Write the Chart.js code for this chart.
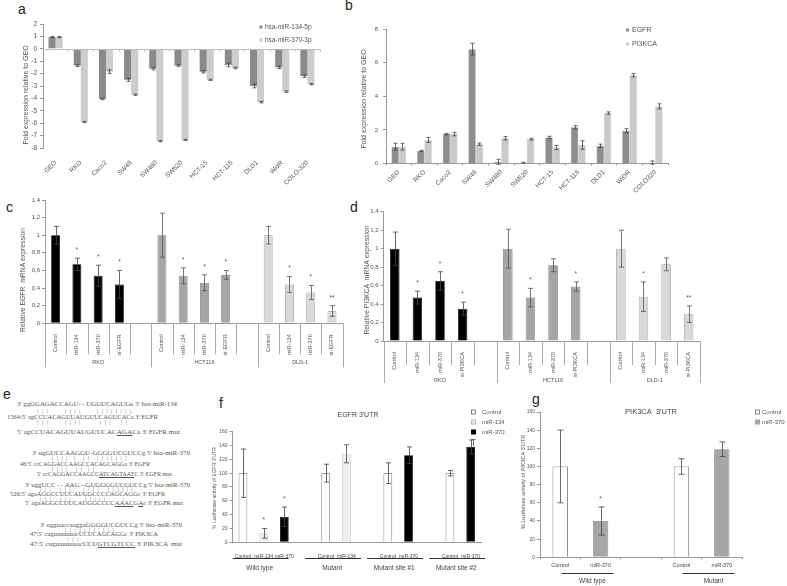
<!DOCTYPE html>
<html>
<head>
<meta charset="utf-8">
<title>miR-134 / miR-370, EGFR and PI3KCA</title>
<script src="https://cdn.jsdelivr.net/npm/chart.js@4.4.1/dist/chart.umd.min.js"></script>
<style>
  body { margin: 0; background: #fff; }
  #page { position: relative; width: 787px; height: 586px; overflow: hidden; font-family: "Liberation Sans", Arial, sans-serif; }
  #page canvas { position: absolute; }
  .panel { position: absolute; font-size: 14px; line-height: 1; color: #222; }
  .seq { position: absolute; font-family: "Liberation Serif", serif; font-size: 6.6px; line-height: 1; color: #555; white-space: pre; transform-origin: 0 0; }
  .pipe { position: absolute; font-family: "Liberation Serif", serif; font-size: 6px; line-height: 1; color: #666; white-space: pre; letter-spacing: 1px; }
</style>
</head>
<body>
<div id="page">
  <div class="panel" style="left:18px;top:2px">a</div>
  <div class="panel" style="left:345px;top:-2px">b</div>
  <div class="panel" style="left:6px;top:200px">c</div>
  <div class="panel" style="left:350px;top:200px">d</div>
  <div class="panel" style="left:3px;top:387px">e</div>
  <div class="panel" style="left:219px;top:396px">f</div>
  <div class="panel" style="left:532px;top:392px">g</div>
  <div id="seqs"></div>
</div>
<script>
// ---- a: miRNA fold expression relative to GEO ----
const linesA = ["GEO", "RKO", "Caco2", "SW48", "SW480", "SW620", "HCT-15", "HCT-116", "DLD1", "WidR", "COLO-320"];
const mir134Fold = [0.95, -1.35, -4.05, -2.5, -1.6, -1.35, -1.85, -1.3, -3.0, -1.5, -2.2];
const mir134FoldErr = [0.05, 0.08, 0.06, 0.12, 0.1, 0.06, 0.1, 0.15, 0.15, 0.1, 0.1];
const mir370Fold = [0.95, -5.9, -1.85, -3.7, -7.45, -7.35, -2.5, -1.55, -4.3, -3.45, -2.85];
const mir370FoldErr = [0.05, 0.05, 0.15, 0.05, 0.05, 0.05, 0.05, 0.06, 0.06, 0.06, 0.05];

// ---- b: EGFR / PI3KCA fold expression relative to GEO ----
const linesB = ["GEO", "RKO", "Caco2", "SW48", "SW480", "SW620", "HCT-15", "HCT-116", "DLD1", "WiDR", "COLO320"];
const egfrFold = [1.0, 0.75, 1.75, 6.8, 0.1, 0.05, 1.55, 2.15, 1.05, 1.95, 0.05];
const egfrFoldErr = [0.2, 0.03, 0.04, 0.35, 0.15, 0.02, 0.07, 0.1, 0.1, 0.12, 0.1];
const pi3kFold = [1.0, 1.4, 1.75, 1.15, 1.5, 1.45, 0.95, 1.1, 3.0, 5.25, 3.4];
const pi3kFoldErr = [0.2, 0.15, 0.1, 0.07, 0.1, 0.05, 0.12, 0.25, 0.07, 0.1, 0.15];

// ---- c / d: relative mRNA expression ----
const cellGroups = ["RKO", "HCT116", "DLD-1"];
const treatEgfr = ["Control", "miR-134", "miR-370", "si-EGFR"];
const treatPik = ["Control", "miR-134", "miR-370", "si-PI3KCA"];

const rkoEgfr = [1.0, 0.67, 0.54, 0.44];
const rkoEgfrErr = [0.1, 0.07, 0.12, 0.16];
const rkoEgfrSig = ["", "*", "*", "*"];
const hctEgfr = [1.0, 0.54, 0.46, 0.55];
const hctEgfrErr = [0.25, 0.09, 0.09, 0.05];
const hctEgfrSig = ["", "*", "*", "*"];
const dldEgfr = [1.0, 0.44, 0.35, 0.14];
const dldEgfrErr = [0.1, 0.09, 0.08, 0.06];
const dldEgfrSig = ["", "*", "*", "**"];

const rkoPik = [1.0, 0.47, 0.65, 0.35];
const rkoPikErr = [0.18, 0.07, 0.1, 0.07];
const rkoPikSig = ["", "*", "*", "*"];
const hctPik = [1.0, 0.47, 0.82, 0.59];
const hctPikErr = [0.21, 0.1, 0.07, 0.05];
const hctPikSig = ["", "*", "", "*"];
const dldPik = [1.0, 0.48, 0.83, 0.29];
const dldPikErr = [0.2, 0.16, 0.07, 0.09];
const dldPikSig = ["", "*", "", "**"];

// ---- f: EGFR 3'UTR luciferase ----
const egfrLucLabels = ["Control", "miR-134", "miR-370", "", "Control", "miR-134", "", "Control", "miR-370", "", "Control", "miR-370"];
const egfrLucGroups = ["Wild type", "Mutant", "Mutant site #1", "Mutant site #2"];
const egfrLucCtrl = [100, null, null, null, 100, null, null, 100, null, null, 100, null];
const egfrLucCtrlErr = [35, 0, 0, 0, 13, 0, 0, 15, 0, 0, 4, 0];
const egfrLuc134 = [null, 13, null, null, null, 128, null, null, null, null, null, null];
const egfrLuc134Err = [0, 7, 0, 0, 0, 13, 0, 0, 0, 0, 0, 0];
const egfrLuc134Sig = ["", "*", "", "", "", "", "", "", "", "", "", ""];
const egfrLuc370 = [null, null, 37, null, null, null, null, null, 126, null, null, 138];
const egfrLuc370Err = [0, 0, 14, 0, 0, 0, 0, 0, 12, 0, 0, 10];
const egfrLuc370Sig = ["", "", "*", "", "", "", "", "", "", "", "", ""];

// ---- g: PIK3CA 3'UTR luciferase ----
const pikLucLabels = ["Control", "miR-370", "", "Control", "miR-370"];
const pikLucGroups = ["Wild type", "Mutant"];
const pikLucCtrl = [100, null, null, 100, null];
const pikLucCtrlErr = [40, 0, 0, 8.5, 0];
const pikLuc370 = [null, 40, null, null, 119];
const pikLuc370Err = [0, 15.5, 0, 0, 8];
const pikLuc370Sig = ["", "*", "", "", ""];

const FAMILY = '"Liberation Sans", Arial, sans-serif';
Chart.defaults.font.family = FAMILY;
Chart.defaults.color = '#555';
Chart.defaults.plugins.legend.display = false;
Chart.defaults.plugins.tooltip.enabled = false;

// error bars + significance stars, drawn with the y scale
const errorBars = {
  id: 'errorBars',
  afterDatasetsDraw(chart, args, o) {
    const ctx = chart.ctx, ys = chart.scales.y;
    ctx.save();
    chart.data.datasets.forEach((ds, i) => {
      if (!ds.err) return;
      chart.getDatasetMeta(i).data.forEach((bar, j) => {
        const v = ds.data[j], e = ds.err[j] || 0;
        if (v == null) return;
        const x = Math.round(bar.x) + 0.5;
        const top = ys.getPixelForValue(v + e);
        if (e) {
          const bot = ys.getPixelForValue(v - e);
          ctx.strokeStyle = ds.errColor || '#444';
          ctx.lineWidth = o.width || 0.8;
          ctx.beginPath();
          ctx.moveTo(x, top); ctx.lineTo(x, bot);
          ctx.moveTo(x - o.cap, top); ctx.lineTo(x + o.cap, top);
          ctx.moveTo(x - o.cap, bot); ctx.lineTo(x + o.cap, bot);
          ctx.stroke();
        }
        const s = ds.stars && ds.stars[j];
        if (s) {
          ctx.fillStyle = '#555';
          ctx.font = o.starSize + 'px ' + FAMILY;
          ctx.textAlign = 'center';
          ctx.textBaseline = 'alphabetic';
          ctx.fillText(s, bar.x, top - o.starGap + o.starSize * 0.59);
        }
      });
    });
    ctx.restore();
  }
};

// titles, legends, zero line and grouped category axes
const deco = {
  id: 'deco',
  afterDraw(chart, args, o) {
    const ctx = chart.ctx, xs = chart.scales.x, ys = chart.scales.y, area = chart.chartArea;
    const ox = o.ox || 0, oy = o.oy || 0;
    const n = chart.data.labels.length, cw = xs.width / n;
    ctx.save();
    if (o.zeroLine) {
      const py = Math.round(ys.getPixelForValue(0)) + 0.5;
      ctx.strokeStyle = o.zeroLine; ctx.lineWidth = 1;
      ctx.beginPath();
      ctx.moveTo(area.left, py); ctx.lineTo(area.right, py);
      for (let i = 1; i <= n; i++) {
        const px = Math.round(area.left + i * cw) + 0.5;
        ctx.moveTo(px, py); ctx.lineTo(px, py + 2);
      }
      ctx.stroke();
    }
    if (o.levels) {
      const L = o.levels, b = area.bottom;
      const starts = L.groups.map(g => g.from);
      ctx.strokeStyle = '#aaa'; ctx.lineWidth = 1;
      ctx.beginPath();
      for (let i = 0; i <= n; i++) {
        const px = Math.round(area.left + i * cw) + 0.5;
        const len = (starts.includes(i) || i === n) ? L.longLen : L.shortLen;
        ctx.moveTo(px, b); ctx.lineTo(px, b + len);
      }
      ctx.stroke();
      ctx.fillStyle = '#555'; ctx.font = L.size + 'px ' + FAMILY;
      ctx.textAlign = 'center'; ctx.textBaseline = 'middle';
      L.groups.forEach(g => ctx.fillText(g.label, area.left + (g.from + g.to + 1) / 2 * cw, b + L.labelY));
    }
    if (o.under) {
      const U = o.under, b = area.bottom;
      ctx.strokeStyle = '#333'; ctx.lineWidth = 1;
      ctx.fillStyle = '#444'; ctx.font = U.size + 'px ' + FAMILY;
      ctx.textAlign = 'center'; ctx.textBaseline = 'middle';
      U.groups.forEach(g => {
        const cx = (xs.getPixelForValue(g.from) + xs.getPixelForValue(g.to)) / 2;
        const ly = Math.round(b + U.lineY) + 0.5;
        ctx.beginPath();
        ctx.moveTo(cx + U.lineDx - U.halfLen, ly); ctx.lineTo(cx + U.lineDx + U.halfLen, ly);
        ctx.stroke();
        ctx.fillText(g.label, cx + U.labelDx, b + U.labelY);
      });
    }
    (o.legend || []).forEach(it => {
      ctx.fillStyle = it.fill;
      ctx.fillRect(it.x - ox, it.y - oy, it.s, it.s);
      if (it.stroke) {
        ctx.strokeStyle = it.stroke; ctx.lineWidth = 0.8;
        ctx.strokeRect(it.x - ox + 0.5, it.y - oy + 0.5, it.s - 1, it.s - 1);
      }
      ctx.fillStyle = '#555'; ctx.font = it.size + 'px ' + FAMILY;
      ctx.textAlign = 'left'; ctx.textBaseline = 'middle';
      ctx.fillText(it.label, it.tx - ox, it.y - oy + it.s / 2);
    });
    (o.marks || []).forEach(m => {
      ctx.strokeStyle = '#555'; ctx.lineWidth = 0.8;
      ctx.beginPath();
      ctx.moveTo(m[0] - ox, m[1] - oy); ctx.lineTo(m[2] - ox, m[3] - oy);
      ctx.stroke();
    });
    (o.texts || []).forEach(t => {
      ctx.save();
      ctx.translate(t.x - ox, t.y - oy);
      ctx.rotate((t.rot || 0) * Math.PI / 180);
      ctx.fillStyle = t.color || '#555';
      ctx.font = t.size + 'px ' + FAMILY;
      ctx.textAlign = 'center'; ctx.textBaseline = 'middle';
      ctx.fillText(t.t, 0, 0);
      ctx.restore();
    });
    ctx.restore();
  }
};
Chart.register(errorBars, deco);

const page = document.getElementById('page');

function build(box, area, config) {
  const cv = document.createElement('canvas');
  cv.width = box.w; cv.height = box.h;
  cv.style.left = box.x + 'px'; cv.style.top = box.y + 'px';
  page.appendChild(cv);
  const o = config.options;
  o.responsive = false;
  o.animation = false;
  o.devicePixelRatio = 1;
  o.layout = { padding: { left: 0, top: area.t - box.y, right: box.x + box.w - area.r, bottom: 0 } };
  o.scales.x.afterFit = s => { s.height = box.y + box.h - area.b; };
  o.scales.y.afterFit = s => { s.width = area.l - box.x; };
  o.plugins.deco = Object.assign({ ox: box.x, oy: box.y }, o.plugins.deco);
  return new Chart(cv, config);
}

function yAxis(min, max, step, size, pad, fmt) {
  return {
    min: min, max: max,
    ticks: { stepSize: step, font: { size: size }, padding: pad, color: '#555', callback: fmt || (v => String(v)) },
    grid: { display: true, drawOnChartArea: false, tickLength: 3, color: '#999' },
    border: { display: true, color: '#999' }
  };
}
const comma = v => String(Math.round(v * 10) / 10).replace('.', ',');

// 4 treatments per cell line, one empty slot between cell lines
function slots(vals, g, fill) {
  const out = new Array(14).fill(fill);
  vals.forEach((v, i) => { out[g * 5 + i] = v; });
  return out;
}
const cLabels = [...treatEgfr, "", ...treatEgfr, "", ...treatEgfr];
const dLabels = [...treatPik, "", ...treatPik, "", ...treatPik];
const cellLevels = (shortLen, longLen, labelY) => ({
  size: 5.5, shortLen: shortLen, longLen: longLen, labelY: labelY,
  groups: cellGroups.map((c, i) => ({ label: c, from: i * 5, to: i === 2 ? 13 : i * 5 + 4 }))
});
const cellColors = [['#000000', '#000000', '#444'], ['#a5a5a5', '#7a7a7a', '#555'], ['#d9d9d9', '#9a9a9a', '#555']];

function cellDatasets(vals, errs, sigs) {
  return vals.map((v, g) => ({
    label: cellGroups[g],
    data: slots(v, g, null), err: slots(errs[g], g, 0), stars: slots(sigs[g], g, ""),
    backgroundColor: cellColors[g][0], borderColor: cellColors[g][1], borderWidth: 0.8,
    errColor: cellColors[g][2], grouped: false, barPercentage: 0.42, categoryPercentage: 1
  }));
}

function cellX(labels) {
  return {
    ticks: { autoSkip: false, minRotation: 90, maxRotation: 90, font: { size: 5.5 }, padding: 3, color: '#555' },
    grid: { display: false },
    border: { display: true, color: '#999' }
  };
}

// ---- panel a ----
build({ x: 0, y: 0, w: 345, h: 190 }, { l: 43, t: 24, r: 320, b: 148 }, {
  type: 'bar',
  data: {
    labels: linesA,
    datasets: [
      { label: 'hsa-miR-134-5p', data: mir134Fold, err: mir134FoldErr, backgroundColor: '#8a8a8a' },
      { label: 'hsa-miR-370-3p', data: mir370Fold, err: mir370FoldErr, backgroundColor: '#cdcdcd' }
    ]
  },
  options: {
    datasets: { bar: { barPercentage: 1, categoryPercentage: 0.56 } },
    scales: {
      x: { ticks: { autoSkip: false, minRotation: 45, maxRotation: 45, font: { size: 6.5 }, padding: 3 }, grid: { display: false }, border: { display: false } },
      y: yAxis(-8, 2, 1, 6.5, 3)
    },
    plugins: {
      errorBars: { cap: 2, starGap: 8, starSize: 7 },
      deco: {
        zeroLine: '#bdbdbd',
        legend: [
          { x: 259.5, y: 25.5, s: 3, fill: '#8a8a8a', label: 'hsa-miR-134-5p', tx: 265, size: 6.5 },
          { x: 259.5, y: 38.5, s: 3, fill: '#cdcdcd', label: 'hsa-miR-370-3p', tx: 265, size: 6.5 }
        ],
        texts: [{ t: 'Fold expression relative to GEO', x: 26, y: 95, rot: -90, size: 7 }]
      }
    }
  }
});

// ---- panel b ----
build({ x: 345, y: 0, w: 442, h: 195 }, { l: 386, t: 29, r: 668, b: 163.5 }, {
  type: 'bar',
  data: {
    labels: linesB,
    datasets: [
      { label: 'EGFR', data: egfrFold, err: egfrFoldErr, backgroundColor: '#8d8d8d', borderColor: '#7a7a7a', borderWidth: 0.5 },
      { label: 'PI3KCA', data: pi3kFold, err: pi3kFoldErr, backgroundColor: '#c9c9c9', borderColor: '#b0b0b0', borderWidth: 0.5 }
    ]
  },
  options: {
    datasets: { bar: { barPercentage: 1, categoryPercentage: 0.57 } },
    scales: {
      x: { ticks: { autoSkip: false, minRotation: 45, maxRotation: 45, font: { size: 6.5 }, padding: 3 }, grid: { display: true, drawOnChartArea: false, offset: true, tickLength: 2, color: '#999' }, border: { display: true, color: '#999' } },
      y: yAxis(0, 8, 2, 6, 5)
    },
    plugins: {
      errorBars: { cap: 2, starGap: 8, starSize: 7 },
      deco: {
        legend: [
          { x: 626, y: 28.5, s: 3, fill: '#8d8d8d', label: 'EGFR', tx: 632, size: 7 },
          { x: 626, y: 42.5, s: 3, fill: '#c9c9c9', label: 'PI3KCA', tx: 632, size: 7 }
        ],
        texts: [{ t: 'Fold expression relative to GEO', x: 364, y: 99, rot: -90, size: 7 }]
      }
    }
  }
});

// ---- panel c ----
build({ x: 0, y: 190, w: 352, h: 190 }, { l: 45, t: 200, r: 342.6, b: 323.3 }, {
  type: 'bar',
  data: {
    labels: cLabels,
    datasets: cellDatasets([rkoEgfr, hctEgfr, dldEgfr], [rkoEgfrErr, hctEgfrErr, dldEgfrErr], [rkoEgfrSig, hctEgfrSig, dldEgfrSig])
  },
  options: {
    scales: { x: cellX(cLabels), y: yAxis(0, 1.4, 0.2, 6, 2, comma) },
    plugins: {
      errorBars: { cap: 2.5, starGap: 10, starSize: 6.5 },
      deco: {
        levels: cellLevels(31, 44, 39),
        texts: [{ t: 'Relative EGFR  mRNA expression', x: 23, y: 280, rot: -90, size: 6.8 }]
      }
    }
  }
});

// ---- panel d ----
build({ x: 352, y: 190, w: 360, h: 205 }, { l: 383.5, t: 211.7, r: 700, b: 341 }, {
  type: 'bar',
  data: {
    labels: dLabels,
    datasets: cellDatasets([rkoPik, hctPik, dldPik], [rkoPikErr, hctPikErr, dldPikErr], [rkoPikSig, hctPikSig, dldPikSig])
  },
  options: {
    scales: { x: cellX(dLabels), y: yAxis(0, 1.4, 0.2, 6, 2, comma) },
    plugins: {
      errorBars: { cap: 2.5, starGap: 10, starSize: 6.5 },
      deco: {
        levels: cellLevels(24, 42, 39),
        texts: [{ t: 'Relative PI3KCA  mRNA expression', x: 367, y: 280, rot: -90, size: 6.8 }]
      }
    }
  }
});

// ---- panel f ----
build({ x: 190, y: 395, w: 325, h: 191 }, { l: 232.6, t: 431.7, r: 481, b: 542.3 }, {
  type: 'bar',
  data: {
    labels: egfrLucLabels,
    datasets: [
      { label: 'Control', data: egfrLucCtrl, err: egfrLucCtrlErr, backgroundColor: '#ffffff', borderColor: '#555', borderWidth: 0.8 },
      { label: 'miR-134', data: egfrLuc134, err: egfrLuc134Err, stars: egfrLuc134Sig, backgroundColor: '#ededed', borderColor: '#c8c8c8', borderWidth: 0.8 },
      { label: 'miR-370', data: egfrLuc370, err: egfrLuc370Err, stars: egfrLuc370Sig, backgroundColor: '#000000', borderColor: '#000', borderWidth: 0.8 }
    ]
  },
  options: {
    datasets: { bar: { grouped: false, barPercentage: 0.42, categoryPercentage: 1 } },
    scales: {
      x: { ticks: { autoSkip: false, maxRotation: 0, font: { size: 5 }, padding: 3, color: '#444' }, grid: { display: false }, border: { display: true, color: '#999' } },
      y: yAxis(0, 160, 20, 5, 2)
    },
    plugins: {
      errorBars: { cap: 2.5, starGap: 10, starSize: 6.5 },
      deco: {
        under: {
          size: 6.5, lineY: 15.7, labelY: 25.7, halfLen: 28, lineDx: -3, labelDx: -4,
          groups: [
            { label: egfrLucGroups[0], from: 0, to: 2 }, { label: egfrLucGroups[1], from: 4, to: 5 },
            { label: egfrLucGroups[2], from: 7, to: 8 }, { label: egfrLucGroups[3], from: 10, to: 11 }
          ]
        },
        legend: [
          { x: 471, y: 409.5, s: 5, fill: '#ffffff', stroke: '#666', label: 'Control', tx: 482, size: 6 },
          { x: 471, y: 419.5, s: 5, fill: '#ededed', stroke: '#aaa', label: 'miR-134', tx: 482, size: 6 },
          { x: 471, y: 429.5, s: 5, fill: '#000000', label: 'miR-370', tx: 482, size: 6 }
        ],
        marks: [[473.5, 439.5, 473.5, 446], [471.5, 439.5, 475.5, 439.5]],
        texts: [
          { t: "EGFR 3'UTR", x: 358, y: 415, size: 7, color: '#444' },
          { t: "% Luciferase activity of EGFR 3'UTR", x: 215, y: 488, rot: -90, size: 5 }
        ]
      }
    }
  }
});

// ---- panel g ----
build({ x: 515, y: 395, w: 272, h: 191 }, { l: 540, t: 412, r: 742, b: 557.3 }, {
  type: 'bar',
  data: {
    labels: pikLucLabels,
    datasets: [
      { label: 'Control', data: pikLucCtrl, err: pikLucCtrlErr, backgroundColor: '#ffffff', borderColor: '#555', borderWidth: 0.8 },
      { label: 'miR-370', data: pikLuc370, err: pikLuc370Err, stars: pikLuc370Sig, backgroundColor: '#a6a6a6', borderColor: '#888', borderWidth: 0.8 }
    ]
  },
  options: {
    datasets: { bar: { grouped: false, barPercentage: 0.38, categoryPercentage: 1 } },
    scales: {
      x: { ticks: { autoSkip: false, maxRotation: 0, font: { size: 5.5 }, padding: 3, color: '#444' }, grid: { display: true, drawOnChartArea: false, offset: true, tickLength: 2, color: '#999' }, border: { display: true, color: '#999' } },
      y: yAxis(0, 160, 20, 5, 2)
    },
    plugins: {
      errorBars: { cap: 3, starGap: 10, starSize: 6.5 },
      deco: {
        under: {
          size: 6.5, lineY: 15.7, labelY: 23.7, halfLen: 26, lineDx: 7, labelDx: 12,
          groups: [{ label: pikLucGroups[0], from: 0, to: 1 }, { label: pikLucGroups[1], from: 3, to: 4 }]
        },
        legend: [
          { x: 755, y: 409.5, s: 5, fill: '#ffffff', stroke: '#666', label: 'Control', tx: 762, size: 6 },
          { x: 755, y: 419.5, s: 5, fill: '#a6a6a6', label: 'miR-370', tx: 762, size: 6 }
        ],
        texts: [
          { t: "PIK3CA  3'UTR", x: 651, y: 412, size: 7.5, color: '#444' },
          { t: "% Luciferase activity of PIK3CA 3'UTR", x: 523, y: 482, rot: -90, size: 5.5 }
        ]
      }
    }
  }
});

// ---- panel e: sequence alignments (text) ----
const seqLines = [
  [17, 404, 160, "3' ggGGAGACCAGU- - UGGUCAGUGu 5' hsa-miR-134"],
  [7, 417, 151, "1564:5' agCCUACAGUUAUGUUCAGUCACa 3' EGFR"],
  [17, 432, 163, "5' agCCUACAGUUAUGUUCAC<u>AGA</u>Ca 3' EGFR mut"],
  [32, 453, 158, "3' ugGUCCAAGGU-GGGGUCGUCCg 5' hsa-miR-370"],
  [20, 464, 130, "46:5' ccCAGGACCAAGCCACAGCAGGa 3' EGFR"],
  [37, 474, 135, "5' ccCAGGACCAAGCC<u>ATCAGTAAT</u>C 3' EGFR mut"],
  [25, 485, 165, "3' uggUCC - - AAG --GUGGGGUCGUCCg 5' hsa-miR-370"],
  [10, 494, 155, "526:5' agaAGGCCUUCAUGGCCCCAGCAGGc 3' EGFR"],
  [25, 503, 158, "5' agaAGGCCUUCAUGGCCCC<u>AAAC</u>G<u>A</u>c 3' EGFR mut"],
  [40, 525, 142, "3' ugguaccaaggaGGGGUCGUCCg 5' hsa-miR-370"],
  [30, 534, 128, "47:5' cuguauuuuacUCUCAGCAGGc 3' PIK3CA"],
  [30, 544, 152, "47:5' cuguauuuuacUCU<u>GTCGTCCC</u> 3' PIK3CA  mut"]
];
const pipeLines = [
  [37, 411, "| | |"], [65, 411, "| | | |"], [97, 411, "| | | | | | | |"],
  [37, 422, "| | |"], [65, 422, "| | | |"], [100, 422, "| | |"], [121, 422, "| |"],
  [52, 458, "| | | |"], [74, 458, "|"], [83, 458, "| |"], [97, 458, "| | | | | | |"],
  [52, 469, "| | | |"], [76, 469, "| |"], [88, 469, "| |"],
  [40, 489, "| | |"], [60, 489, "| | |"], [83, 489, ": | | |"], [108, 489, "| | | | | |"],
  [40, 499, "| | |"], [60, 499, "| | |"], [85, 499, "| | | | |"], [123, 499, "|"],
  [65, 530, "| | : | | | | | | | |"],
  [67, 539, ": | :"]
];
const seqBox = document.getElementById('seqs');
seqLines.forEach(([x, y, w, html]) => {
  const d = document.createElement('div');
  d.className = 'seq';
  d.style.left = x + 'px'; d.style.top = (y - 3.5) + 'px';
  d.innerHTML = html;
  seqBox.appendChild(d);
  const real = d.getBoundingClientRect().width;
  if (real > 0) d.style.transform = 'scaleX(' + (w / real).toFixed(3) + ')';
});
pipeLines.forEach(([x, y, t]) => {
  const d = document.createElement('div');
  d.className = 'pipe';
  d.style.left = x + 'px'; d.style.top = (y - 3) + 'px';
  d.textContent = t;
  seqBox.appendChild(d);
});
</script>
</body>
</html>
